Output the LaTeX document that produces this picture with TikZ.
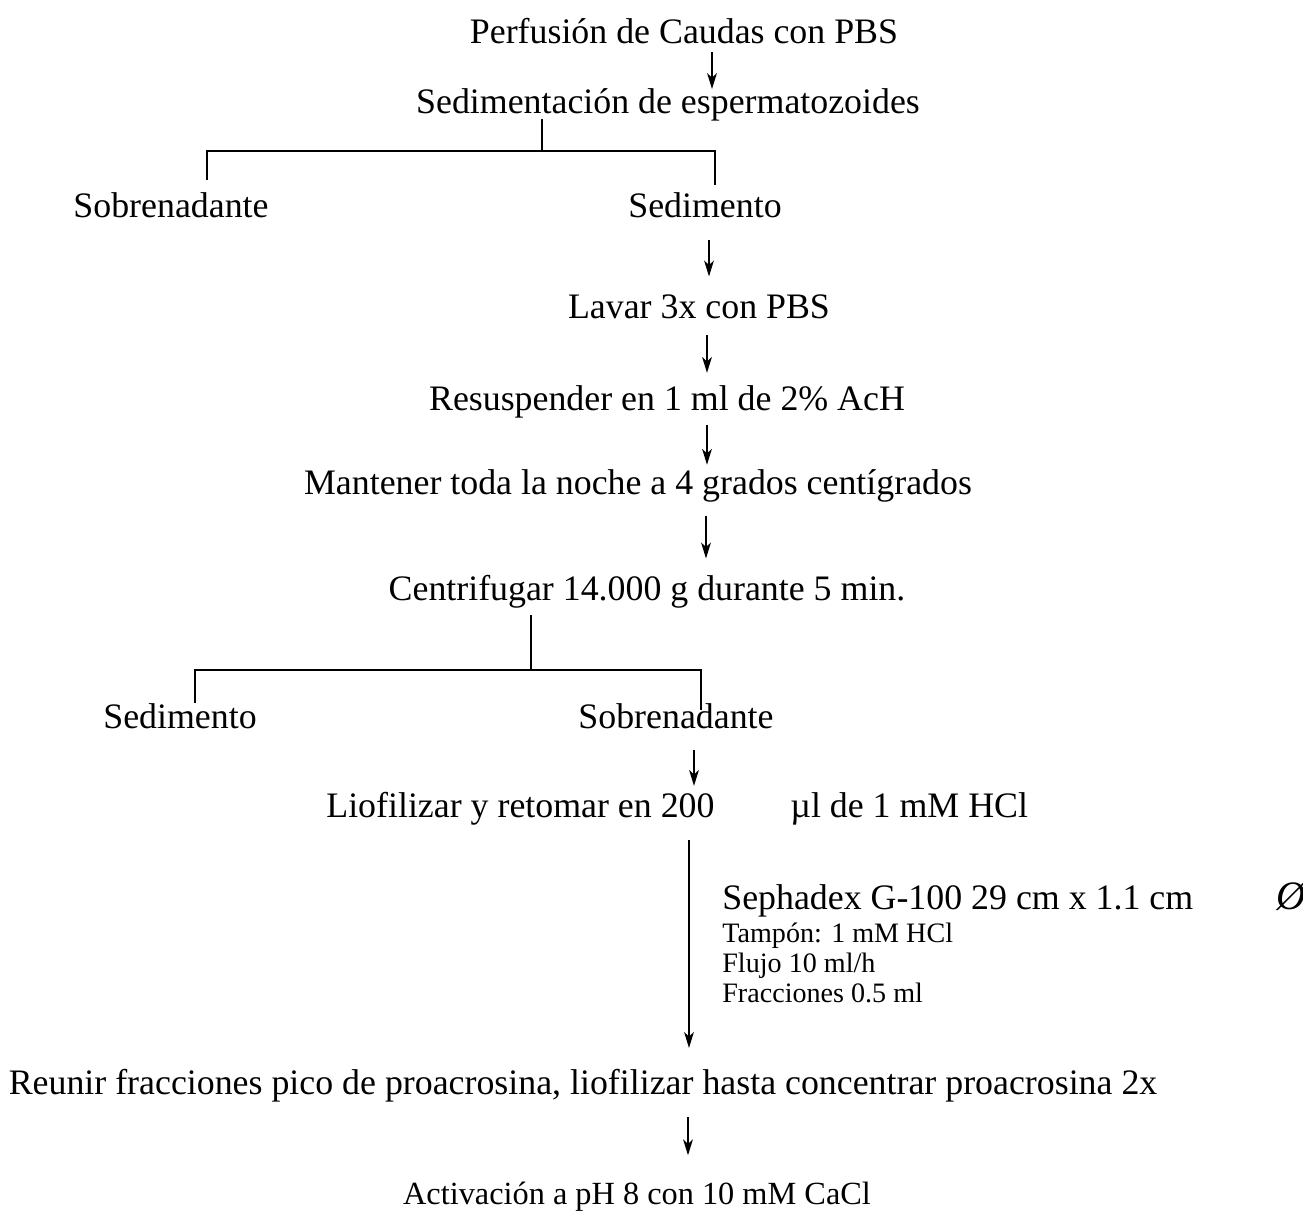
\documentclass[tikz,border=0pt]{standalone}
\usepackage{fontspec}
\setmainfont{Liberation Serif}
\usetikzlibrary{arrows.meta}
\begin{document}
\begin{tikzpicture}[x=0.02cm,y=-0.02cm,
  paso/.style={inner sep=0pt,anchor=base,text height=14pt,text depth=4.5pt,font=\fontsize{20.4}{24}\selectfont},
  nota/.style={inner sep=0pt,anchor=base west,font=\fontsize{16}{19}\selectfont},
  flecha/.style={line width=1.2pt,-{Stealth[length=9pt,width=5.5pt,inset=2.5pt]}},
  rama/.style={line width=1.2pt}]
\useasboundingbox (0,0) rectangle (1303,1213);
\node[paso] (perf) at (684,44) {Perfusión de Caudas con PBS};
\node[paso] (sedi) at (668,114) {Sedimentación de espermatozoides};
\node[paso] (sobre1) at (171,218) {Sobrenadante};
\node[paso] (sedim1) at (705,218) {Sedimento};
\node[paso] (lavar) at (699,319) {Lavar 3x con PBS};
\node[paso] (resusp) at (667,411) {Resuspender en 1 ml de 2\% AcH};
\node[paso] (mant) at (638,495) {Mantener toda la noche a 4 grados centígrados};
\node[paso] (centr) at (647,601) {Centrifugar 14.000 g durante 5 min.};
\node[paso] (sedim2) at (180,728) {Sedimento};
\node[paso] (sobre2) at (676,728) {Sobrenadante};
\node[paso,anchor=base west] (liof) at (326,817) {Liofilizar y retomar en 200};
\node[paso,anchor=base west] (hcl) at (790,817) {µl de 1 mM HCl};
\node[paso,anchor=base west] (seph) at (722,909) {Sephadex G-100 29 cm x 1.1 cm};
\node[paso,font=\fontsize{23}{26}\selectfont] (diam) at (1291,909) {\itshape Ø};
\node[nota] (tampon) at (722,942) {Tampón: 1 mM HCl};
\node[nota] (flujo) at (722,972) {Flujo 10 ml/h};
\node[nota] (fracc) at (722,1002) {Fracciones 0.5 ml};
\node[paso] (reunir) at (583,1094) {Reunir fracciones pico de proacrosina, liofilizar hasta concentrar proacrosina 2x};
\node[paso,font=\fontsize{18.4}{22}\selectfont] (activ) at (637,1204) {Activación a pH 8 con 10 mM CaCl};
\draw[flecha] (perf.south -| 712,0) -- (sedi.north -| 712,0);
\draw[rama,shorten <=-2pt] (sedi.south -| 542,0) -- (542,151) coordinate (r1);
\draw[rama,shorten <=7.5pt,shorten >=4.5pt] (sobre1.north -| 207,0) |- (r1) -| (sedim1.north -| 715,0);
\draw[flecha,shorten <=8pt,shorten >=10pt] (sedim1.south -| 709,0) -- (lavar.north -| 709,0);
\draw[flecha,shorten <=4.5pt,shorten >=7.5pt] (lavar.south -| 707,0) -- (resusp.north -| 707,0);
\draw[flecha,shorten <=3.5pt,shorten >=3pt] (resusp.south -| 707,0) -- (mant.north -| 707,0);
\draw[flecha,shorten <=7pt,shorten >=10pt] (mant.south -| 706,0) -- (centr.north -| 706,0);
\draw[rama,shorten <=3.5pt] (centr.south -| 531,0) -- (531,670) coordinate (r2);
\draw[rama,shorten >=-4pt] (sedim2.north -| 195,0) |- (r2) -| (sobre2.north -| 701,0);
\draw[flecha,shorten <=8pt,shorten >=3.5pt] (sobre2.south -| 694,0) -- (liof.north -| 694,0);
\draw[flecha,shorten <=8.5pt,shorten >=12pt] (liof.south -| 689,0) -- (reunir.north -| 689,0);
\draw[flecha,shorten <=8.5pt,shorten >=13.5pt] (reunir.south -| 688,0) -- (activ.north -| 688,0);
\end{tikzpicture}
\end{document}
